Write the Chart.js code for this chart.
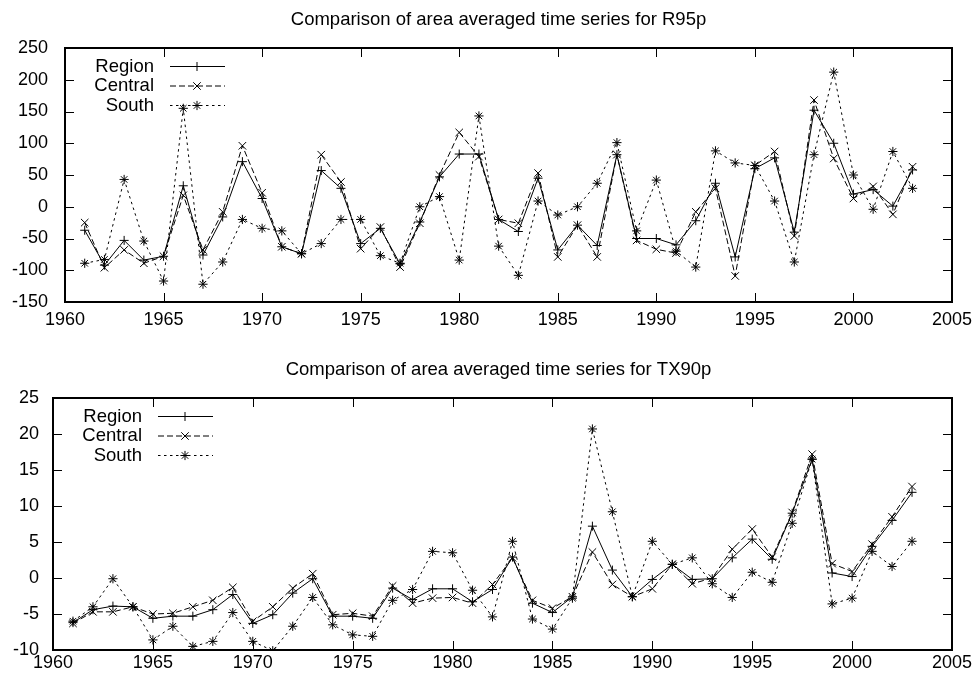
<!DOCTYPE html>
<html>
<head>
<meta charset="utf-8">
<title>Comparison of area averaged time series</title>
<script src="https://cdn.jsdelivr.net/npm/chart.js@4.4.1/dist/chart.umd.min.js"></script>
<style>
    html, body { margin: 0; padding: 0; background: #ffffff; }
    .panel { position: absolute; left: 0; width: 973px; }
    .panel canvas { display: block; }
    #top_panel { top: 0; height: 340px; }
    #bottom_panel { top: 340px; height: 341px; }
</style>
</head>
<body>
<div class="panel" id="top_panel"><canvas id="r95p_chart" width="973" height="340"></canvas></div>
<div class="panel" id="bottom_panel"><canvas id="tx90p_chart" width="973" height="341"></canvas></div>
<script>
// Years on the x axis
const years = [
    1961, 1962, 1963, 1964, 1965, 1966, 1967, 1968, 1969, 1970,
    1971, 1972, 1973, 1974, 1975, 1976, 1977, 1978, 1979, 1980,
    1981, 1982, 1983, 1984, 1985, 1986, 1987, 1988, 1989, 1990,
    1991, 1992, 1993, 1994, 1995, 1996, 1997, 1998, 1999, 2000,
    2001, 2002, 2003
]

// R95p (top panel)
const r95pRegion = [
    -37, -92, -53, -84, -78, 33, -76, -16, 71, 13,
    -63, -74, 57, 29, -58, -34, -90, -24, 47, 83,
    83, -20, -39, 45, -68, -29, -61, 82, -50, -50,
    -60, -22, 37, -79, 60, 77, -40, 152, 100, 20,
    27, 1, 58
]
const r95pCentral = [
    -25, -96, -68, -89, -78, 18, -68, -8, 96, 22,
    -63, -74, 82, 39, -66, -32, -95, -26, 50, 117,
    79, -20, -26, 53, -79, -29, -79, 82, -53, -67,
    -73, -8, 29, -109, 65, 87, -46, 168, 76, 13,
    32, -12, 63
]
const r95pSouth = [
    -89, -83, 43, -54, -117, 155, -122, -87, -20, -34,
    -38, -74, -58, -20, -20, -77, -89, 0, 16, -84,
    143, -62, -108, 9, -13, 0, 37, 101, -38, 42,
    -70, -95, 88, 69, 65, 9, -87, 82, 212, 50,
    -4, 87, 29
]

// TX90p (bottom panel)
const tx90pRegion = [
    -6.2, -4.4, -3.9, -4.0, -5.6, -5.3, -5.3, -4.4, -2.3, -6.3,
    -5.1, -2.1, -0.1, -5.3, -5.3, -5.6, -1.4, -3.0, -1.5, -1.5,
    -3.3, -1.6, 2.9, -3.5, -4.8, -2.6, 7.2, 1.1, -2.6, -0.2,
    1.9, -0.2, -0.1, 2.8, 5.4, 2.6, 9.0, 16.5, 0.7, 0.2,
    4.4, 8.0, 11.9
]
const tx90pCentral = [
    -6.3, -4.7, -4.7, -4.0, -5.0, -4.9, -4.0, -3.1, -1.3, -6.0,
    -4.0, -1.4, 0.6, -5.1, -4.9, -5.3, -1.1, -3.5, -2.8, -2.7,
    -3.5, -0.9, 2.8, -3.1, -4.2, -2.6, 3.6, -0.9, -2.6, -1.5,
    1.9, -0.8, 0.0, 4.0, 6.8, 2.9, 9.1, 17.2, 2.0, 0.9,
    4.7, 8.5, 12.7
]
const tx90pSouth = [
    -6.0, -4.0, -0.1, -4.0, -8.6, -6.7, -9.5, -8.8, -4.8, -8.8,
    -10.1, -6.7, -2.7, -6.5, -7.9, -8.1, -3.1, -1.6, 3.7, 3.5,
    -1.7, -5.4, 5.1, -5.7, -7.1, -2.8, 20.7, 9.2, -2.6, 5.1,
    1.9, 2.8, -0.8, -2.7, 0.8, -0.6, 7.6, 16.5, -3.6, -2.8,
    3.7, 1.6, 5.1
]

// Axis ranges: min, max, step
const xRange = [1960, 2005, 5]
const r95pRange = [-150, 250, 50]
const tx90pRange = [-10, 25, 5]

const fontFamily = '"Liberation Sans", Arial, Helvetica, sans-serif'

// Box around the plot with gnuplot style inward ticks on all four sides
const gnuplotFrame = {
    id: 'gnuplotFrame',
    afterDatasetsDraw(chart) {
        const { ctx, chartArea: a, scales: { x, y } } = chart
        const tickLen = 9
        ctx.save()
        ctx.strokeStyle = '#000'
        ctx.lineWidth = 1
        ctx.setLineDash([])
        ctx.beginPath()
        x.ticks.forEach(t => {
            const px = Math.round(x.getPixelForValue(t.value)) + 0.5
            if (px <= a.left + 2 || px >= a.right - 2) return
            ctx.moveTo(px, a.bottom)
            ctx.lineTo(px, a.bottom - tickLen)
            ctx.moveTo(px, a.top)
            ctx.lineTo(px, a.top + tickLen)
        })
        y.ticks.forEach(t => {
            const py = Math.round(y.getPixelForValue(t.value)) + 0.5
            if (py <= a.top + 2 || py >= a.bottom - 2) return
            ctx.moveTo(a.left, py)
            ctx.lineTo(a.left + tickLen, py)
            ctx.moveTo(a.right, py)
            ctx.lineTo(a.right - tickLen, py)
        })
        ctx.stroke()
        ctx.lineWidth = 2
        ctx.strokeRect(a.left, a.top, a.right - a.left, a.bottom - a.top)
        ctx.restore()
    }
}

// Key in the top-left corner: label, then line sample with its marker
const gnuplotKey = {
    id: 'gnuplotKey',
    afterDatasetsDraw(chart) {
        const { ctx, chartArea: a } = chart
        ctx.save()
        ctx.font = `18.5px ${fontFamily}`
        ctx.textAlign = 'right'
        ctx.textBaseline = 'middle'
        chart.data.datasets.forEach((ds, i) => {
            const rowY = a.top + 18.5 + i * 19.5
            ctx.fillStyle = '#000'
            ctx.fillText(ds.label, a.left + 89, rowY)
            ctx.strokeStyle = '#000'
            ctx.lineWidth = 1
            ctx.setLineDash(ds.borderDash || [])
            ctx.beginPath()
            ctx.moveTo(a.left + 105, rowY)
            ctx.lineTo(a.left + 160, rowY)
            ctx.stroke()
            ctx.setLineDash([])
            Chart.helpers.drawPoint(ctx, {
                pointStyle: ds.pointStyle,
                radius: ds.pointRadius,
                rotation: 0,
                borderWidth: 1
            }, a.left + 132, rowY)
        })
        ctx.restore()
    }
}

const panelTitle = {
    id: 'panelTitle',
    afterDraw(chart, args, opts) {
        const { ctx } = chart
        ctx.save()
        ctx.font = `18.5px ${fontFamily}`
        ctx.fillStyle = '#000'
        ctx.textAlign = 'center'
        ctx.textBaseline = 'middle'
        ctx.fillText(opts.text, chart.width / 2 + 12, chart.chartArea.top - 28)
        ctx.restore()
    }
}

const toPoints = values => years.map((yr, i) => ({ x: yr, y: values[i] }))

const makeDataset = (label, values, pointStyle, pointRadius, borderDash) => ({
    label: label,
    data: toPoints(values),
    borderColor: '#000',
    backgroundColor: '#000',
    borderWidth: 1,
    borderDash: borderDash,
    pointStyle: pointStyle,
    pointRadius: pointRadius,
    pointHoverRadius: pointRadius,
    pointBorderColor: '#000',
    pointBorderWidth: 1,
    tension: 0,
    fill: false
})

const buildPanel = (canvasId, title, yRange, yWidth, padTop, padBottom, xPad, yPad, series) => {
    const canvas = document.getElementById(canvasId)
    const tickFont = { family: fontFamily, size: 18 }
    return new Chart(canvas.getContext('2d'), {
        type: 'line',
        data: {
            datasets: [
                makeDataset('Region', series[0], 'cross', 4.5, []),
                makeDataset('Central', series[1], 'crossRot', 5.3, [6, 3]),
                makeDataset('South', series[2], 'star', 4.6, [2.5, 3.5])
            ]
        },
        options: {
            responsive: false,
            animation: false,
            events: [],
            layout: { padding: { top: padTop, right: 21, bottom: padBottom, left: 0 } },
            plugins: {
                legend: { display: false },
                tooltip: { enabled: false },
                title: { display: false },
                panelTitle: { text: title }
            },
            scales: {
                x: {
                    type: 'linear',
                    min: xRange[0],
                    max: xRange[1],
                    grid: { display: false, drawTicks: false },
                    border: { display: false },
                    ticks: {
                        stepSize: xRange[2],
                        color: '#000',
                        padding: xPad,
                        maxRotation: 0,
                        autoSkip: false,
                        font: tickFont,
                        callback: v => String(v)
                    },
                    afterFit: scale => {
                        scale.height = 30
                        scale.paddingLeft = 0
                        scale.paddingRight = 0
                    }
                },
                y: {
                    type: 'linear',
                    min: yRange[0],
                    max: yRange[1],
                    grid: { display: false, drawTicks: false },
                    border: { display: false },
                    ticks: {
                        stepSize: yRange[2],
                        color: '#000',
                        padding: yPad,
                        font: tickFont,
                        callback: v => String(v)
                    },
                    afterFit: scale => { scale.width = yWidth }
                }
            }
        },
        plugins: [gnuplotFrame, gnuplotKey, panelTitle]
    })
}

document.addEventListener('DOMContentLoaded', () => {
    buildPanel('r95p_chart', 'Comparison of area averaged time series for R95p',
        r95pRange, 65, 48, 8, 7, 17, [r95pRegion, r95pCentral, r95pSouth])
    buildPanel('tx90p_chart', 'Comparison of area averaged time series for TX90p',
        tx90pRange, 53, 58, 1, 2, 14, [tx90pRegion, tx90pCentral, tx90pSouth])
})
</script>
</body>
</html>
